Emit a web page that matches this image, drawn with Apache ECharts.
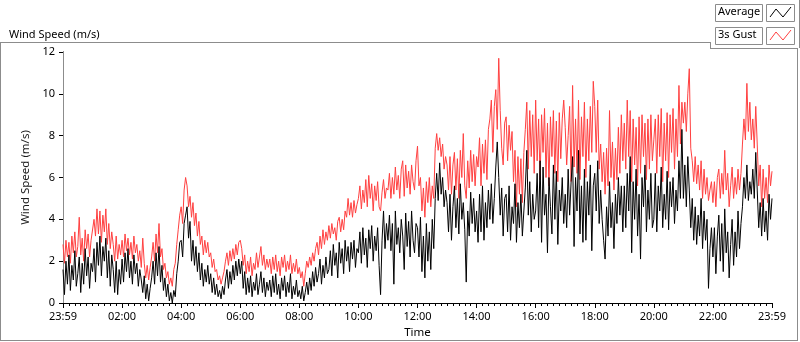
<!DOCTYPE html>
<html>
<head>
<meta charset="utf-8">
<script src="https://cdn.jsdelivr.net/npm/echarts@6/dist/echarts.min.js"></script>
<style>
  html, body { margin: 0; padding: 0; background: #fff; }
  #chart { width: 800px; height: 342px; }
</style>
</head>
<body>
<div id="chart"></div>
<script>
// sample step in minutes, counted from 23:59
const stepMin = 3;

// one row per hour, 20 samples each (+ last point)
const avgSpeed = [
  1.6, 0.4, 2.0, 0.9, 2.3, 0.6, 1.8, 1.1, 2.5, 0.8, 1.4, 2.2, 0.5, 1.9, 0.9, 2.6, 1.3, 2.2, 0.7, 1.9,
  1.5, 2.6, 1.0, 2.9, 1.8, 3.2, 1.3, 2.7, 2.0, 3.1, 1.2, 2.5, 0.8, 2.3, 1.6, 0.5, 2.0, 0.4, 1.6, 0.9,
  2.1, 1.0, 2.4, 1.5, 2.6, 1.2, 2.0, 0.9, 2.3, 1.4, 1.9, 0.8, 1.6, 1.1, 0.5, 1.3, 0.2, 0.9, 0.1, 0.7,
  1.2, 2.0, 0.9, 2.4, 1.3, 2.7, 1.0, 1.8, 0.6, 1.2, 0.3, 0.9, 0.1, 0.5, 0.0, 0.6, 0.3, 1.4, 2.0, 2.9,
  3.0, 2.2, 3.8, 4.2, 4.6, 3.1, 3.9, 2.0, 3.0, 1.8, 2.7, 1.5, 2.4, 1.1, 1.9, 0.8, 1.6, 1.0, 1.8, 0.9,
  1.4, 0.5, 1.2, 0.4, 0.9, 0.3, 0.6, 0.2, 0.8, 0.4, 1.1, 1.6, 0.7, 1.5, 0.9, 1.8, 1.1, 2.0, 1.3, 2.1,
  1.4, 2.0, 0.7, 1.5, 0.4, 1.2, 0.5, 1.3, 0.3, 1.0, 0.6, 1.4, 0.4, 0.9, 1.5, 0.5, 1.2, 0.3, 1.0, 0.6,
  1.1, 0.3, 1.3, 0.5, 1.4, 0.4, 0.9, 0.2, 1.2, 0.6, 1.3, 0.3, 1.0, 0.5, 1.4, 0.2, 0.8, 0.4, 1.1, 0.3,
  0.6, 0.2, 0.8, 0.1, 0.5, 1.0, 0.4, 1.2, 0.6, 1.5, 0.8, 1.7, 1.0, 1.4, 2.1, 0.9, 1.8, 1.2, 2.2, 1.4,
  1.6, 2.5, 1.3, 2.8, 1.8, 2.4, 1.2, 2.9, 1.9, 2.6, 1.4, 3.0, 2.0, 2.7, 1.5, 2.9, 2.1, 3.0, 1.7, 2.6,
  2.4, 3.4, 1.9, 3.6, 2.3, 3.1, 1.7, 3.5, 2.6, 3.7, 2.0, 3.2, 2.5, 3.6, 1.8, 0.4, 3.0, 4.4, 2.6, 3.8,
  3.0, 4.2, 2.5, 3.8, 0.9, 4.4, 2.8, 3.6, 2.4, 4.0, 3.2, 1.6, 4.3, 2.7, 3.9, 2.2, 4.4, 3.0, 2.4, 3.8,
  3.6, 2.2, 4.1, 1.5, 3.2, 1.2, 3.8, 2.0, 3.4, 1.6, 4.0, 2.6, 5.0, 6.2, 4.9, 6.7, 5.2, 6.0, 4.6, 5.4,
  4.8, 3.4, 5.2, 3.0, 4.6, 5.6, 3.6, 5.0, 3.3, 5.7, 4.0, 4.8, 3.5, 1.0, 4.4, 3.2, 5.3, 3.8, 5.0, 3.4,
  4.4, 2.9, 5.2, 3.4, 5.6, 3.0, 4.8, 3.6, 5.4, 4.0, 5.7, 3.8, 5.0, 6.5, 7.7, 6.0, 4.2, 5.5, 3.2, 5.0,
  5.2, 3.4, 5.6, 3.0, 4.6, 3.8, 5.7, 2.9, 4.8, 3.6, 5.2, 3.2, 4.4, 5.5, 7.3, 4.2, 5.8, 3.4, 5.2, 4.0,
  4.4, 6.2, 3.6, 6.8, 2.9, 6.5, 4.2, 5.2, 2.4, 6.0, 4.6, 3.3, 6.6, 4.0, 6.3, 2.8, 5.4, 4.4, 6.0, 3.8,
  5.2, 3.6, 6.4, 4.2, 5.8, 7.0, 2.7, 6.0, 4.4, 7.3, 3.3, 5.6, 2.9, 6.4, 3.0, 5.8, 4.2, 6.6, 2.5, 5.6,
  6.2, 4.4, 6.8, 3.8, 5.4, 4.0, 3.0, 2.1, 4.6, 3.2, 5.8, 3.6, 4.8, 2.6, 5.2, 3.8, 6.0, 4.2, 5.6, 3.4,
  5.6, 3.6, 6.2, 4.4, 7.0, 2.4, 5.8, 4.0, 6.4, 3.2, 5.2, 2.1, 6.0, 4.6, 6.6, 3.4, 5.4, 4.0, 6.2, 3.6,
  4.0, 6.2, 3.4, 5.6, 4.4, 6.5, 3.6, 5.2, 4.0, 6.3, 3.5, 5.8, 4.6, 6.0, 3.8, 5.4, 4.4, 6.8, 5.0, 8.3,
  5.0, 6.6, 4.6, 7.0, 5.4, 3.6, 5.0, 3.0, 4.6, 2.8, 4.2, 3.2, 5.0, 2.6, 4.4, 3.0, 4.0, 0.7, 2.6, 3.6,
  2.2, 3.6, 1.4, 3.2, 4.2, 2.0, 3.8, 1.5, 4.5, 2.4, 3.4, 1.2, 2.8, 4.0, 1.8, 3.4, 2.2, 4.4, 2.6, 3.8,
  4.6, 6.0, 5.0, 6.6, 4.9, 5.8, 5.2, 6.4, 5.0, 7.2, 5.4, 3.6, 4.8, 3.2, 5.0, 3.4, 4.4, 3.0, 5.2, 4.0,
  5.0
];

const gustSpeed = [
  2.8, 1.9, 3.0, 2.2, 2.9, 1.9, 3.2, 2.4, 3.4, 2.2, 2.7, 4.1, 2.3, 3.1, 2.0, 3.5, 2.6, 3.3, 2.2, 3.0,
  3.0, 4.0, 3.2, 4.5, 3.3, 4.4, 2.9, 4.2, 3.4, 4.5, 2.8, 3.8, 2.6, 3.4, 2.8, 2.0, 3.2, 2.1, 2.8, 2.3,
  3.0, 2.2, 3.3, 2.5, 3.1, 2.3, 2.9, 2.1, 3.2, 2.4, 2.8, 2.0, 2.5, 1.7, 3.1, 1.9, 1.2, 1.8, 1.1, 1.7,
  2.2, 2.9, 2.0, 3.3, 2.4, 3.8, 2.2, 2.6, 1.6, 1.9, 1.2, 1.5, 0.9, 1.2, 0.8, 1.6, 1.9, 2.8, 3.5, 4.2,
  4.6, 3.8, 5.4, 6.0, 5.6, 4.6, 5.1, 4.1, 4.8, 3.7, 4.3, 3.2, 3.9, 2.8, 3.2, 2.3, 3.0, 2.4, 2.9, 2.2,
  2.4, 1.7, 2.1, 1.5, 1.6, 1.1, 1.3, 0.9, 1.2, 1.5, 2.0, 2.4, 1.8, 2.5, 2.0, 2.6, 2.1, 2.8, 2.3, 2.9,
  3.0, 2.6, 1.8, 2.3, 1.4, 2.0, 1.5, 2.2, 1.3, 1.9, 1.6, 2.4, 1.7, 2.2, 2.7, 1.8, 2.3, 1.6, 2.1, 1.7,
  2.1, 1.4, 2.2, 1.6, 2.3, 1.5, 2.0, 1.3, 2.2, 1.7, 2.3, 1.5, 2.0, 1.6, 2.3, 1.4, 1.9, 1.5, 2.1, 1.4,
  1.7, 1.2, 1.5, 0.8, 1.4, 2.0, 1.7, 2.2, 1.8, 2.4, 2.0, 2.6, 2.9, 2.3, 3.2, 2.6, 3.5, 2.8, 3.4, 3.0,
  3.7, 3.1, 3.8, 3.3, 3.6, 3.0, 3.9, 4.1, 3.4, 4.0, 3.5, 4.4, 4.1, 5.0, 4.2, 4.8, 4.1, 4.9, 4.3, 4.7,
  5.0, 5.6, 4.5, 5.4, 4.8, 5.9, 4.6, 6.1, 5.0, 5.7, 4.4, 5.6, 4.9, 5.8, 4.6, 4.4, 5.3, 5.9, 5.0, 5.5,
  5.4, 6.2, 5.0, 6.0, 5.2, 6.5, 5.4, 6.1, 5.0, 6.4, 6.8, 5.1, 6.6, 5.5, 6.3, 5.2, 6.6, 5.8, 5.4, 6.8,
  7.5, 5.6, 6.0, 4.4, 5.5, 4.1, 5.8, 4.8, 6.0, 4.6, 5.6, 5.0, 7.4, 8.1, 7.3, 7.9, 7.0, 7.6, 6.4, 7.0,
  6.6, 5.4, 7.0, 5.2, 6.6, 7.2, 5.4, 6.9, 5.0, 7.3, 6.0, 8.1, 5.6, 5.0, 6.8, 5.5, 7.3, 5.8, 7.1, 5.6,
  7.0, 6.5, 7.9, 5.6, 7.6, 6.2, 7.8, 5.9, 8.3, 8.8, 9.7, 7.2, 9.4, 10.2, 8.3, 11.7, 9.2, 7.4, 6.6, 8.6,
  8.9, 6.8, 8.5, 7.3, 8.2, 5.8, 7.3, 4.6, 7.0, 5.2, 6.9, 4.8, 7.2, 8.3, 9.6, 6.4, 9.2, 7.0, 9.0, 6.2,
  9.7, 6.8, 8.8, 5.9, 9.0, 7.2, 9.3, 6.0, 8.6, 5.6, 8.9, 7.0, 9.2, 6.2, 8.7, 5.8, 9.1, 6.9, 8.8, 9.7,
  8.4, 6.6, 8.0, 9.4, 5.8, 10.4, 6.5, 8.8, 6.2, 9.7, 5.9, 8.9, 7.0, 9.6, 6.0, 8.8, 6.8, 9.4, 7.2, 10.6,
  9.4, 7.2, 9.7, 6.4, 7.6, 5.8, 7.2, 5.2, 7.4, 5.6, 9.2, 6.0, 7.7, 5.4, 7.4, 5.9, 8.4, 6.2, 9.0, 6.8,
  8.6, 6.4, 9.7, 7.0, 9.2, 5.8, 8.8, 6.6, 8.4, 5.6, 8.9, 6.2, 9.0, 7.0, 8.6, 5.9, 8.8, 6.4, 9.0, 6.8,
  7.8, 8.8, 6.2, 9.0, 7.0, 9.3, 5.8, 8.6, 6.8, 9.1, 6.0, 9.0, 7.2, 9.3, 6.4, 8.8, 7.0, 10.4, 7.6, 9.6,
  8.6, 9.6, 8.2, 10.0, 11.2, 7.4, 6.8, 5.8, 7.0, 5.7, 6.6, 5.4, 6.8, 5.0, 6.4, 5.2, 6.0, 4.9, 5.4, 5.8,
  4.8, 5.8, 4.6, 6.0, 6.4, 5.0, 6.2, 5.2, 7.3, 5.4, 6.2, 4.6, 5.6, 6.5, 5.0, 6.0, 5.2, 6.4, 5.4, 6.2,
  7.6, 8.8, 7.8, 10.5, 8.2, 9.6, 7.8, 8.8, 7.4, 9.4, 7.6, 5.6, 6.6, 4.6, 6.4, 5.0, 6.0, 4.8, 6.6, 5.6,
  6.3
];

// x tick labels every 120 minutes
const timeLabels = ["23:59", "02:00", "04:00", "06:00", "08:00", "10:00", "12:00",
  "14:00", "16:00", "18:00", "20:00", "22:00", "23:59"];

const FONT = "Noto Sans";

function toPairs(arr) {
  return arr.map((v, i) => [i * stepMin, v]);
}

const chart = echarts.init(document.getElementById("chart"));

chart.setOption({
  animation: false,
  backgroundColor: "#fff",
  title: {
    text: "Wind Speed (m/s)",
    left: 4,
    top: 24,
    textStyle: { fontFamily: FONT, fontSize: 11, fontWeight: "normal", color: "#000" }
  },
  grid: { left: 63, right: 28, top: 52, bottom: 39, outerBoundsMode: "none" },
  xAxis: [
    {
      type: "value",
      min: 0,
      max: 1440,
      interval: 120,
      name: "Time",
      nameLocation: "middle",
      nameGap: 24,
      nameTextStyle: { fontFamily: FONT, fontSize: 11.5, color: "#000" },
      axisLine: { lineStyle: { color: "#8c8c8c", width: 1 } },
      axisTick: { show: true, length: 5, lineStyle: { color: "#000" } },
      minorTick: { show: true, splitNumber: 10, length: 3, lineStyle: { color: "#000" } },
      splitLine: { show: false },
      axisLabel: {
        fontFamily: FONT, fontSize: 11, color: "#000", margin: 8,
        formatter: v => timeLabels[Math.round(v / 120)]
      }
    },
    {
      type: "value",
      position: "top",
      min: 0,
      max: 1440,
      axisLine: { show: true, lineStyle: { color: "#000" } },
      axisTick: { show: false },
      axisLabel: { show: false },
      splitLine: { show: false }
    }
  ],
  yAxis: [
    {
      type: "value",
      min: 0,
      max: 12,
      interval: 2,
      name: "Wind Speed (m/s)",
      nameLocation: "middle",
      nameGap: 30,
      nameTextStyle: { fontFamily: FONT, fontSize: 11.5, color: "#1a1a1a" },
      axisLine: { show: true, lineStyle: { color: "#000" } },
      axisTick: { show: true, length: 4, lineStyle: { color: "#000" } },
      splitLine: { show: false },
      axisLabel: { fontFamily: FONT, fontSize: 11, color: "#000", margin: 8 }
    },
    {
      type: "value",
      position: "right",
      min: 0,
      max: 12,
      axisLine: { show: true, lineStyle: { color: "#8c8c8c" } },
      axisTick: { show: false },
      axisLabel: { show: false },
      splitLine: { show: false }
    }
  ],
  series: [
    {
      name: "3s Gust",
      type: "line",
      data: toPairs(gustSpeed),
      showSymbol: false,
      lineStyle: { color: "#ff4040", width: 1 },
      z: 2
    },
    {
      name: "Average",
      type: "line",
      data: toPairs(avgSpeed),
      showSymbol: false,
      lineStyle: { color: "#000", width: 1 },
      z: 3
    }
  ],
  graphic: [
    // outer frame
    { type: "line", shape: { x1: 0, y1: 42.5, x2: 710, y2: 42.5 }, style: { stroke: "#8c8c8c", lineWidth: 1 } },
    { type: "line", shape: { x1: 0.5, y1: 42, x2: 0.5, y2: 340 }, style: { stroke: "#8c8c8c", lineWidth: 1 } },
    { type: "line", shape: { x1: 0, y1: 340.5, x2: 798, y2: 340.5 }, style: { stroke: "#8c8c8c", lineWidth: 1 } },
    { type: "line", shape: { x1: 797.5, y1: 48, x2: 797.5, y2: 341 }, style: { stroke: "#8c8c8c", lineWidth: 1 } },
    { type: "line", shape: { x1: 710.5, y1: 42, x2: 710.5, y2: 48.5 }, style: { stroke: "#8c8c8c", lineWidth: 1 } },
    { type: "line", shape: { x1: 710, y1: 48.5, x2: 798, y2: 48.5 }, style: { stroke: "#8c8c8c", lineWidth: 1 } },
    { type: "line", shape: { x1: 799.5, y1: 0, x2: 799.5, y2: 48 }, style: { stroke: "#8c8c8c", lineWidth: 1 } },
    // legend: Average
    { type: "rect", shape: { x: 715.5, y: 4.5, width: 47, height: 17 }, style: { fill: "#fff", stroke: "#8c8c8c", lineWidth: 1 } },
    { type: "text", left: 718, top: 6, style: { text: "Average", fontFamily: FONT, fontSize: 11, fill: "#000" } },
    { type: "rect", shape: { x: 766.5, y: 4.5, width: 28, height: 17 }, style: { fill: "#fff", stroke: "#8c8c8c", lineWidth: 1 } },
    { type: "polyline", shape: { points: [[770, 17], [776, 9], [783, 17], [791, 7]] }, style: { stroke: "#000", lineWidth: 1, fill: null } },
    // legend: 3s Gust
    { type: "rect", shape: { x: 715.5, y: 27.5, width: 47, height: 17 }, style: { fill: "#fff", stroke: "#8c8c8c", lineWidth: 1 } },
    { type: "text", left: 718, top: 29, style: { text: "3s Gust", fontFamily: FONT, fontSize: 11, fill: "#000" } },
    { type: "rect", shape: { x: 766.5, y: 27.5, width: 28, height: 17 }, style: { fill: "#fff", stroke: "#8c8c8c", lineWidth: 1 } },
    { type: "polyline", shape: { points: [[770, 40], [776, 32], [783, 40], [791, 30]] }, style: { stroke: "#ff4040", lineWidth: 1, fill: null } }
  ]
});
</script>
</body>
</html>
